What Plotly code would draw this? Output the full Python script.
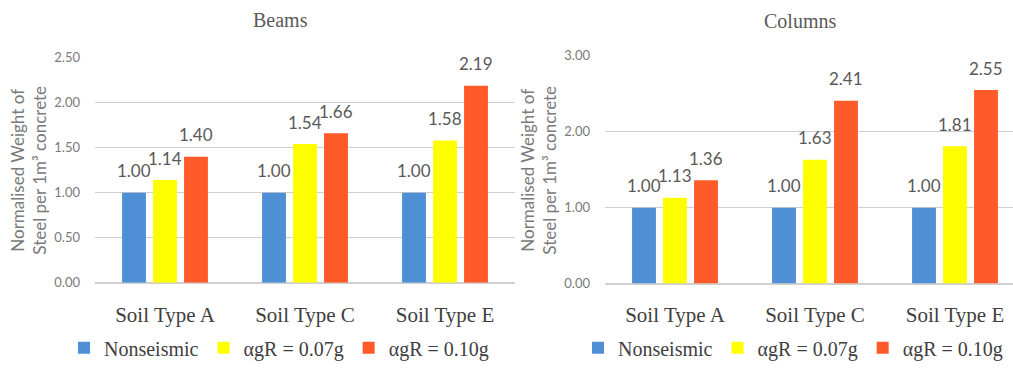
import plotly.graph_objects as go

# Data
categories = ["Soil Type A", "Soil Type C", "Soil Type E"]
series_names = ["Nonseismic", "αgR = 0.07g", "αgR = 0.10g"]
beams_nonseismic = [1.00, 1.00, 1.00]
beams_007g = [1.14, 1.54, 1.58]
beams_010g = [1.40, 1.66, 2.19]
columns_nonseismic = [1.00, 1.00, 1.00]
columns_007g = [1.13, 1.63, 1.81]
columns_010g = [1.36, 2.41, 2.55]
beams_ticks = [0.0, 0.5, 1.0, 1.5, 2.0, 2.5]
columns_ticks = [0.0, 1.0, 2.0, 3.0]

colors = ["#4F8FD6", "#FFFF00", "#FF5A2A"]
W, H = 1013, 372
BARGAP = 0.336
SLOT = (1 - BARGAP) / 3

SANS = "Lato, 'Open Sans', sans-serif"
SERIF = "'Liberation Serif', 'Times New Roman', serif"
GRAY = "#595959"
LIGHT = "#7A7A7A"
DARK = "#404040"
GRID = "#D0D0D0"

fig = go.Figure()

panels = [
    ("x", "y", "legend", [beams_nonseismic, beams_007g, beams_010g]),
    ("x2", "y2", "legend2", [columns_nonseismic, columns_007g, columns_010g]),
]

annotations = []
for xa, ya, lg, vals in panels:
    for k, (name, col, v) in enumerate(zip(series_names, colors, vals)):
        fig.add_trace(go.Bar(
            x=categories, y=v, name=name, marker=dict(color=col, line=dict(width=0)),
            xaxis=xa, yaxis=ya, legend=lg, hoverinfo="skip",
        ))
        # value labels above each bar
        for i, val in enumerate(v):
            annotations.append(dict(
                x=i + (k - 1) * SLOT, y=val, xref=xa, yref=ya,
                text=f"{val:.2f}", showarrow=False, xanchor="center",
                yanchor="middle", yshift=22,
                font=dict(family=SANS, size=17, color=GRAY),
            ))

# panel titles
annotations.append(dict(x=280 / W, y=1 - 13 / H, xref="paper", yref="paper", text="Beams",
                        showarrow=False, xanchor="center", yanchor="middle",
                        font=dict(family=SERIF, size=20, color=GRAY)))
annotations.append(dict(x=800 / W, y=1 - 14 / H, xref="paper", yref="paper", text="Columns",
                        showarrow=False, xanchor="center", yanchor="middle",
                        font=dict(family=SERIF, size=20, color=GRAY)))

# y-axis titles
ytitle = "Normalised Weight of<br>Steel per 1m³ concrete"
for xc, yc in [(29 / W, 1 - 170 / H), (539 / W, 1 - 170 / H)]:
    annotations.append(dict(x=xc, y=yc, xref="paper", yref="paper", text=ytitle,
                            textangle=-90, showarrow=False, xanchor="center",
                            yanchor="middle",
                            font=dict(family=SANS, size=17, color=LIGHT)))

xcommon = dict(type="category", showgrid=False, showline=False, ticks="", zeroline=False,
               tickfont=dict(family=SERIF, size=21, color=DARK), ticklabelstandoff=17,
               fixedrange=True)
ycommon = dict(showgrid=True, gridcolor=GRID, gridwidth=1, zeroline=True, zerolinecolor=GRID,
               showline=False, ticks="", tickformat=".2f",
               tickfont=dict(family=SANS, size=13, color=LIGHT), ticklabelstandoff=14,
               fixedrange=True)

legend_common = dict(orientation="h", yanchor="middle", xanchor="left",
                     font=dict(family=SERIF, size=20, color=DARK), itemwidth=30,
                     bgcolor="rgba(0,0,0,0)", tracegroupgap=0)

fig.update_layout(
    width=W, height=H,
    margin=dict(l=0, r=0, t=0, b=0),
    paper_bgcolor="white", plot_bgcolor="white",
    barmode="group", bargap=BARGAP, bargroupgap=0.23,
    xaxis=dict(xcommon, domain=[95 / W, 515 / W], range=[-0.5, 2.5]),
    xaxis2=dict(xcommon, domain=[605 / W, 1.0], range=[-0.5, 2.5 - 12 / 140]),
    yaxis=dict(ycommon, domain=[1 - 287 / H, 1 - 52 / H], range=[0, 2.5],
               tickvals=beams_ticks, anchor="x"),
    yaxis2=dict(ycommon, domain=[1 - 288 / H, 1 - 50 / H], range=[0, 3.0],
                tickvals=columns_ticks, anchor="x2"),
    legend=dict(legend_common, x=64 / W, y=17 / H),
    legend2=dict(legend_common, x=578 / W, y=17 / H),
    annotations=annotations,
    showlegend=True,
)

fig.write_html("out.html")
